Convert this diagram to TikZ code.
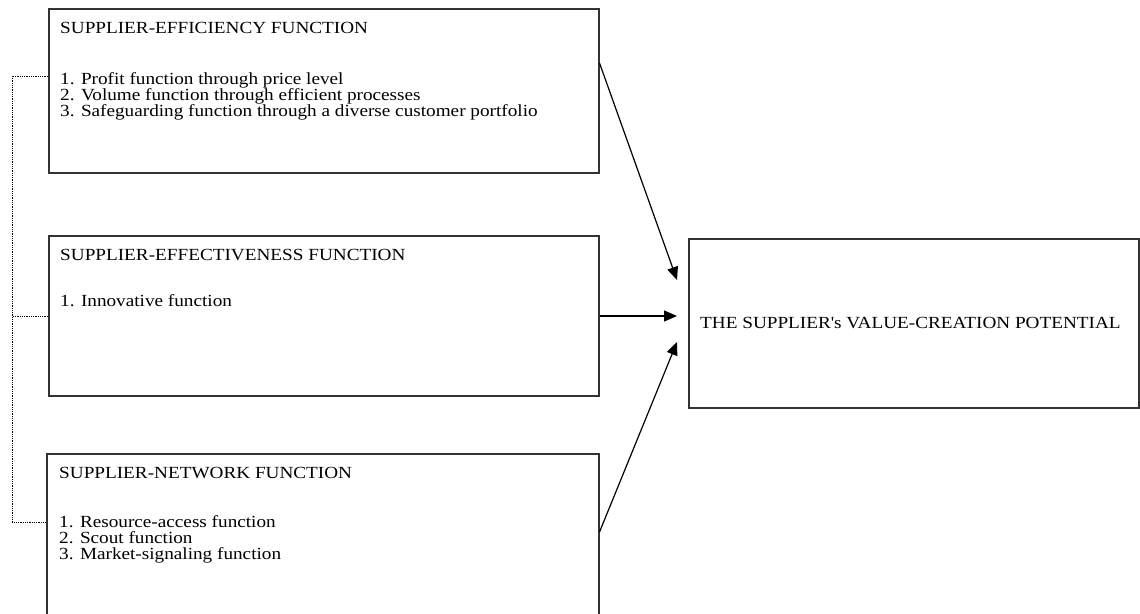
\documentclass[tikz,border=0pt]{standalone}
\usepackage{fontspec}
\setmainfont[FakeStretch=1.13]{Liberation Serif}
\usetikzlibrary{arrows.meta,positioning,calc}
\newcommand{\tightlines}{\lineskiplimit=-20pt\relax}

\begin{document}
\begin{tikzpicture}[x=1pt,y=1pt]
	\tikzstyle{funcbox} = [draw=black!80, line width=1.5pt, minimum width=550pt,
	anchor=north west, inner sep=0pt];
	\tikzstyle{functext} = [anchor=north west, align=left, inner sep=0pt,
	font=\fontsize{17}{16}\selectfont\tightlines];
	\tikzstyle{feed} = [-{Triangle[length=13pt,width=11pt]}, line width=1.2pt];
	\tikzstyle{bracket} = [densely dotted, line width=0.8pt];
	\useasboundingbox (0,0) rectangle (1140,-613);
	% the three functions and the potential
	\node[funcbox, minimum height=164pt](efficiency) at (48,-8) {};
	\node[funcbox, minimum height=160pt](effectiveness) at (48,-235) {};
	\node[funcbox, minimum height=172pt, minimum width=552pt](network) at (46,-453) {};
	\node[funcbox, minimum width=450pt, minimum height=169pt](value) at (688,-238) {};
	\node[functext](efficiencytext) at ($(efficiency.north west)+(12,-14)$)
	{SUPPLIER-EFFICIENCY FUNCTION\\[35pt]
		1. Profit function through price level\\
		2. Volume function through efficient processes\\
		3. Safeguarding function through a diverse customer portfolio};
	\node[functext](effectivenesstext) at ($(effectiveness.north west)+(12,-14)$)
	{SUPPLIER-EFFECTIVENESS FUNCTION\\[30pt]
		1. Innovative function};
	\node[functext](networktext) at ($(network.north west)+(13,-14)$)
	{SUPPLIER-NETWORK FUNCTION\\[33pt]
		1. Resource-access function\\
		2. Scout function\\
		3. Market-signaling function};
	\node[functext, anchor=west](valuetext) at ($(value.west)+(12,0)$)
	{THE SUPPLIER\textquotesingle s VALUE-CREATION POTENTIAL};
	% dotted bracket on the left
	\coordinate (b1) at ($(efficiency.north west)+(0,-68)$);
	\coordinate (b2) at ($(effectiveness.north west)+(0,-81)$);
	\coordinate (b3) at ($(network.north west)+(0,-69)$);
	\draw[bracket] (b1) -- ++(-36,0) |- (b3);
	\draw[bracket] (b2) -- ++(-36,0);
	% arrows into the potential
	\coordinate (tipA) at ($(value.north west)+(-11,-42)$);
	\coordinate (tipB) at ($(value.north west)+(-11,-78)$);
	\coordinate (tipC) at ($(value.north west)+(-11,-104)$);
	\draw[feed] ($(efficiency.north east)+(0,-55)$) to (tipA);
	\draw[feed] (effectiveness.east |- tipB) to (tipB);
	\draw[feed] ($(network.north east)+(0,-79)$) to (tipC);
\end{tikzpicture}
\end{document}
